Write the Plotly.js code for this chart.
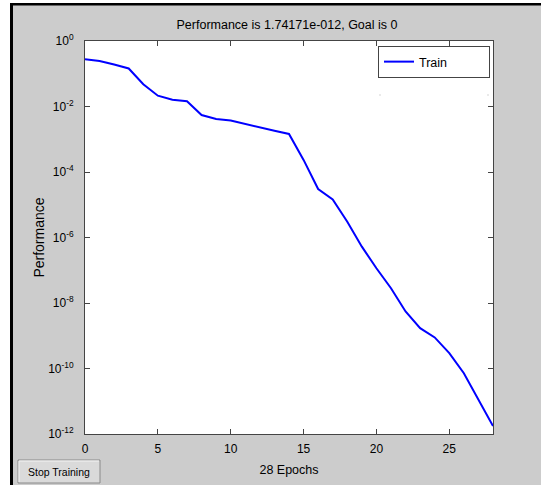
<!DOCTYPE html>
<html><head><meta charset="utf-8">
<script src="https://cdn.plot.ly/plotly-3.0.1.min.js"></script>
<style>html,body{margin:0;padding:0;background:#fff;}#chart{width:541px;height:485px;}</style>
</head><body><div id="chart"></div>
<script>
// ---- data ----
const epochs = [0,1,2,3,4,5,6,7,8,9,10,11,12,13,14,15,16,17,18,19,20,21,22,23,24,25,26,27,28];
const trainPerf = [0.277,0.245,0.191,0.145,0.0479,0.0214,0.0162,0.0145,0.0055,0.00417,0.00372,0.00288,0.00229,0.00182,0.00145,
  2.34e-4,3.02e-5,1.45e-5,3.02e-6,5.25e-7,1.15e-7,2.82e-8,5.5e-9,1.70e-9,8.9e-10,2.95e-10,7.2e-11,1.12e-11,1.74171e-12];
const xTicks = [0,5,10,15,20,25];
const yTickVals = [1,1e-2,1e-4,1e-6,1e-8,1e-10,1e-12];
const yTickText = ['10<sup>0</sup>','10<sup>-2</sup>','10<sup>-4</sup>','10<sup>-6</sup>','10<sup>-8</sup>','10<sup>-10</sup>','10<sup>-12</sup>'];
const titleText = 'Performance is 1.74171e-012, Goal is 0';
const xTitle = '28 Epochs';
const yTitle = 'Performance';
const seriesName = 'Train';
const buttonText = 'Stop Training';

// ---- layout geometry (pixels) ----
const W = 541, H = 485, ML = 85, MR = 48, MT = 41, MB = 51;
const PW = W - ML - MR, PH = H - MT - MB;
const px = x => (x - ML) / PW;
const py = y => (MT + PH - y) / PH;
const SANS = '"Liberation Sans", Arial, Helvetica, sans-serif';

const trace = {
  x: epochs, y: trainPerf, type: 'scatter', mode: 'lines', name: seriesName,
  line: {color: '#0000ff', width: 2}
};

const shapes = [
  // outer white edges and black frame
  {type:'rect', xref:'paper', yref:'paper', x0:px(0), x1:px(10), y0:py(H), y1:py(0), fillcolor:'#ffffff', line:{width:0}, layer:'below'},
  {type:'rect', xref:'paper', yref:'paper', x0:px(0), x1:px(W), y0:py(3), y1:py(0), fillcolor:'#ffffff', line:{width:0}, layer:'below'},
  {type:'rect', xref:'paper', yref:'paper', x0:px(10), x1:px(13), y0:py(H), y1:py(3), fillcolor:'#000000', line:{width:0}, layer:'below'},
  {type:'rect', xref:'paper', yref:'paper', x0:px(10), x1:px(W), y0:py(5.5), y1:py(3), fillcolor:'#000000', line:{width:0}, layer:'below'},
  // button
  {type:'rect', xref:'paper', yref:'paper', x0:px(18), x1:px(100), y0:py(483), y1:py(460), fillcolor:'#dadada', line:{color:'#8a8a8a', width:1}},
  {type:'line', xref:'paper', yref:'paper', x0:px(19), x1:px(99), y0:py(461), y1:py(461), line:{color:'#f4f4f4', width:1}},
  {type:'line', xref:'paper', yref:'paper', x0:px(19), x1:px(19), y0:py(461), y1:py(482), line:{color:'#f4f4f4', width:1}},
  // small marks under legend
  {type:'rect', xref:'paper', yref:'paper', x0:px(379.5), x1:px(380.5), y0:py(95.5), y1:py(94.5), fillcolor:'#aaaaaa', line:{width:0}},
  {type:'rect', xref:'paper', yref:'paper', x0:px(487.5), x1:px(488.5), y0:py(95.5), y1:py(94.5), fillcolor:'#aaaaaa', line:{width:0}}
];

const layout = {
  width: W, height: H,
  margin: {l: ML, r: MR, t: MT, b: MB, pad: 0},
  paper_bgcolor: '#cccccc', plot_bgcolor: '#ffffff',
  font: {family: SANS, size: 12, color: '#000'},
  title: {text: titleText, font: {family: SANS, size: 12.5, color: '#000'}, x: px(287), xanchor: 'center', xref: 'paper', y: 1 - 25/H, yanchor: 'middle'},
  showlegend: true,
  legend: {x: px(378), y: py(46), xanchor: 'left', yanchor: 'top', orientation: 'h', bgcolor: '#ffffff', bordercolor: '#444', borderwidth: 1,
           font: {family: SANS, size: 12.5}, entrywidth: 65, entrywidthmode: 'pixels', itemwidth: 30, tracegroupgap: 0},
  xaxis: {range: [0, 28], tickvals: xTicks, ticks: 'inside', ticklen: 5, tickcolor: '#444', showline: true, linecolor: '#444', linewidth: 1,
          mirror: 'ticks', showgrid: false, zeroline: false, tickfont: {family: SANS, size: 12}, ticklabelstandoff: 4,
          title: {text: xTitle, font: {family: SANS, size: 12.5}, standoff: 9}},
  yaxis: {type: 'log', range: [-12, 0], tickvals: yTickVals, ticktext: yTickText, ticks: 'inside', ticklen: 5, tickcolor: '#444',
          showline: true, linecolor: '#444', linewidth: 1, mirror: 'ticks', showgrid: false, zeroline: false,
          tickfont: {family: SANS, size: 12}, ticklabelstandoff: 8,
          title: {text: yTitle, font: {family: SANS, size: 14}, standoff: 0}},
  shapes: shapes,
  annotations: [
    {text: buttonText, xref: 'paper', yref: 'paper', x: px(59), y: py(471.5), showarrow: false, xanchor: 'center', yanchor: 'middle',
     font: {family: SANS, size: 10.5, color: '#000'}}
  ]
};

Plotly.newPlot('chart', [trace], layout, {displayModeBar: false, staticPlot: true});
</script></body></html>
